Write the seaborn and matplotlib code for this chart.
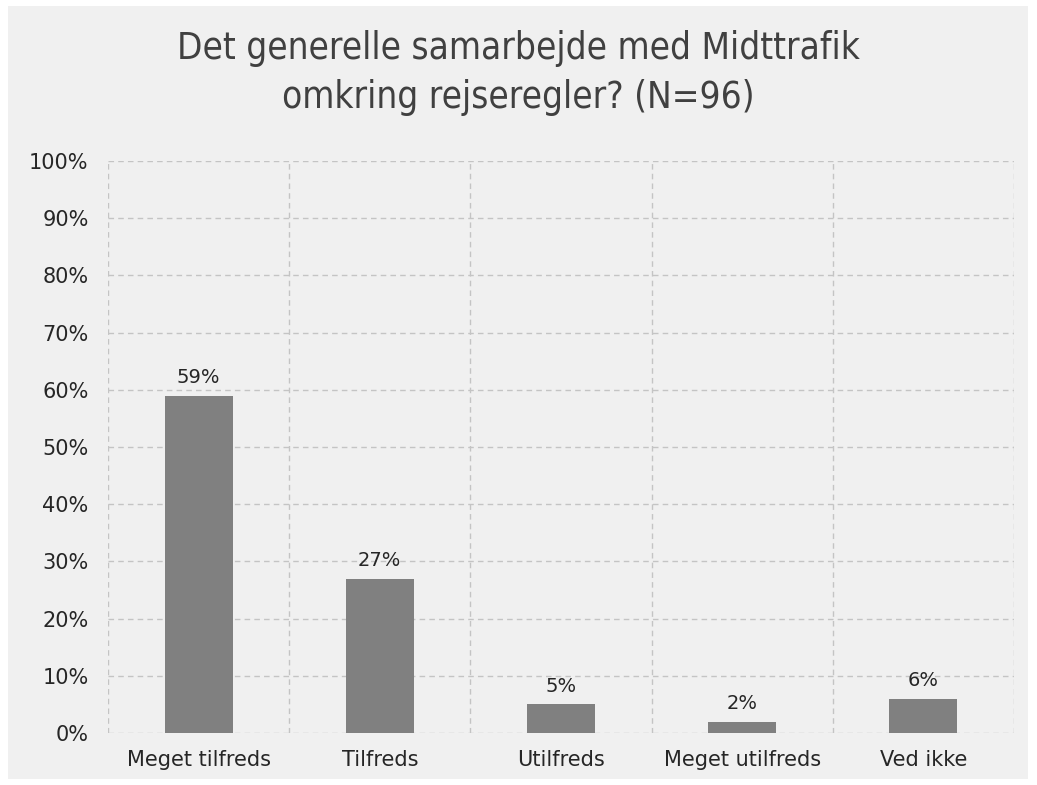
import matplotlib
matplotlib.use("Agg")
import matplotlib.pyplot as plt
import seaborn as sns
import pandas as pd
from matplotlib.patches import Rectangle
from matplotlib.ticker import FuncFormatter

categories = ["Meget tilfreds", "Tilfreds", "Utilfreds", "Meget utilfreds", "Ved ikke"]
values = [59, 27, 5, 2, 6]
labels = ["59%", "27%", "5%", "2%", "6%"]
title = "Det generelle samarbejde med Midttrafik\nomkring rejseregler? (N=96)"

df = pd.DataFrame({"cat": categories, "val": values})

sns.set_theme(style="white")
plt.rcParams['font.family'] = ['DejaVu Sans']

W, H = 1037, 785
fig = plt.figure(figsize=(W / 100, H / 100), dpi=100, facecolor="white")
fig.patches.append(Rectangle((8 / W, 6 / H), (1028 - 8) / W, (779 - 6) / H,
                             transform=fig.transFigure, facecolor="#f0f0f0",
                             edgecolor="none", zorder=-10))
ax = fig.add_axes([108 / W, 1 - 733 / H, (1014 - 108) / W, (733 - 161) / H])
ax.set_facecolor("#f0f0f0")

sns.barplot(data=df, x="cat", y="val", color="#808080", width=0.375,
            saturation=1, ax=ax, zorder=3, linewidth=0, edgecolor="none")
ax.set_xlim(-0.5, 4.5)
ax.set_ylim(0, 100)
ax.set_yticks(range(0, 101, 10))
ax.yaxis.set_major_formatter(FuncFormatter(lambda v, p: f"{int(v)}%"))
ax.set_xlabel("")
ax.set_ylabel("")

for y in range(0, 101, 10):
    ax.axhline(y, color="#c4c4c4", lw=1, ls=(0, (4, 3)), zorder=1)
for x in [-0.5, 0.5, 1.5, 2.5, 3.5, 4.5]:
    ax.axvline(x, color="#c4c4c4", lw=1, ls=(0, (4, 3)), zorder=1)

for sp in ax.spines.values():
    sp.set_visible(False)

ax.tick_params(axis="both", length=0, labelsize=15, colors="#262626")
ax.tick_params(axis="y", pad=14)
ax.tick_params(axis="x", pad=12)

for i, (v, lab) in enumerate(zip(values, labels)):
    ax.annotate(lab, (i, v), xytext=(0, 6), textcoords="offset points",
                ha="center", va="bottom", fontsize=14, color="#262626")

fig.text(0.5, 1 - 73 / H, title, ha="center", va="center", fontsize=26.5,
         color="#404040", family=["DejaVu Sans"], fontstretch="condensed",
         fontweight="medium", linespacing=1.4)

fig.savefig("out.png", dpi=100, facecolor="white")
